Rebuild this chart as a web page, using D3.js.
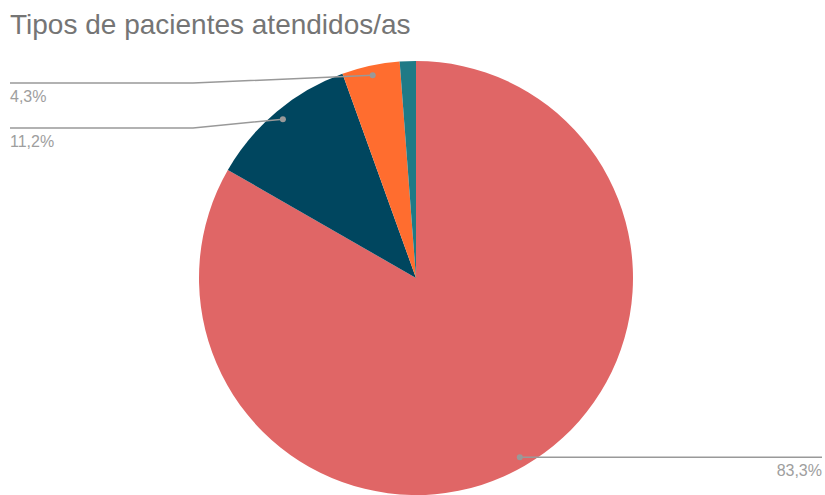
<!DOCTYPE html>
<html lang="es">
<head>
<meta charset="UTF-8">
<title>Tipos de pacientes atendidos/as</title>
<script src="https://d3js.org/d3.v7.min.js"></script>
<style>
    body { margin: 0; background: #fff; }
    .title { font: 28px "Liberation Sans", Arial, sans-serif; fill: #757575; }
    .lbl { font: 16px "Liberation Sans", Arial, sans-serif; fill: #9e9e9e; }
</style>
</head>
<body>
<svg id="chart" width="825" height="495"></svg>
<script>
    // Data
    const categories = ["A", "B", "C", "D"];
    const values = [83.3, 11.2, 4.3, 1.2];
    const labels = ["83,3%", "11,2%", "4,3%", ""];
    const colors = ["#e06666", "#00465f", "#ff6d2f", "#1f7a86"];

    const svg = d3.select("#chart");
    const cx = 416, cy = 278, r = 217;

    svg.append("text").attr("class", "title").attr("x", 10).attr("y", 34)
        .text("Tipos de pacientes atendidos/as");

    const data = categories.map((c, i) => ({ cat: c, value: values[i], label: labels[i], color: colors[i] }));
    const pie = d3.pie().value(d => d.value).sort(null);
    const arcs = pie(data);
    const arc = d3.arc().innerRadius(0).outerRadius(r);
    const dotArc = d3.arc().innerRadius(r * 0.955).outerRadius(r * 0.955);

    const g = svg.append("g").attr("transform", `translate(${cx},${cy})`);
    g.selectAll("path").data(arcs).join("path")
        .attr("d", arc)
        .attr("fill", d => d.data.color);

    // label leaders: left side ones bend at an elbow, right one is straight
    const leaders = [
        { side: "right", lineY: null },
        { side: "left", elbowX: 193, lineY: 128 },
        { side: "left", elbowX: 193, lineY: 83 },
        null
    ];

    arcs.forEach((a, i) => {
        const L = leaders[i];
        if (!L) return;
        const [dx, dy] = dotArc.centroid(a);
        const px = cx + dx, py = cy + dy;
        let pts;
        if (L.side === "right") {
            pts = [[px, py], [822, py]];
        } else {
            pts = [[px, py], [L.elbowX, L.lineY], [10, L.lineY]];
        }
        svg.append("path")
            .attr("d", d3.line()(pts))
            .attr("fill", "none")
            .attr("stroke", "#999")
            .attr("stroke-width", 1.5);
        svg.append("circle").attr("cx", px).attr("cy", py).attr("r", 3).attr("fill", "#999");
        const ly = pts[pts.length - 1][1] + 19;
        svg.append("text").attr("class", "lbl")
            .attr("x", L.side === "right" ? 822 : 10)
            .attr("y", ly)
            .attr("text-anchor", L.side === "right" ? "end" : "start")
            .text(a.data.label);
    });
</script>
</body>
</html>
